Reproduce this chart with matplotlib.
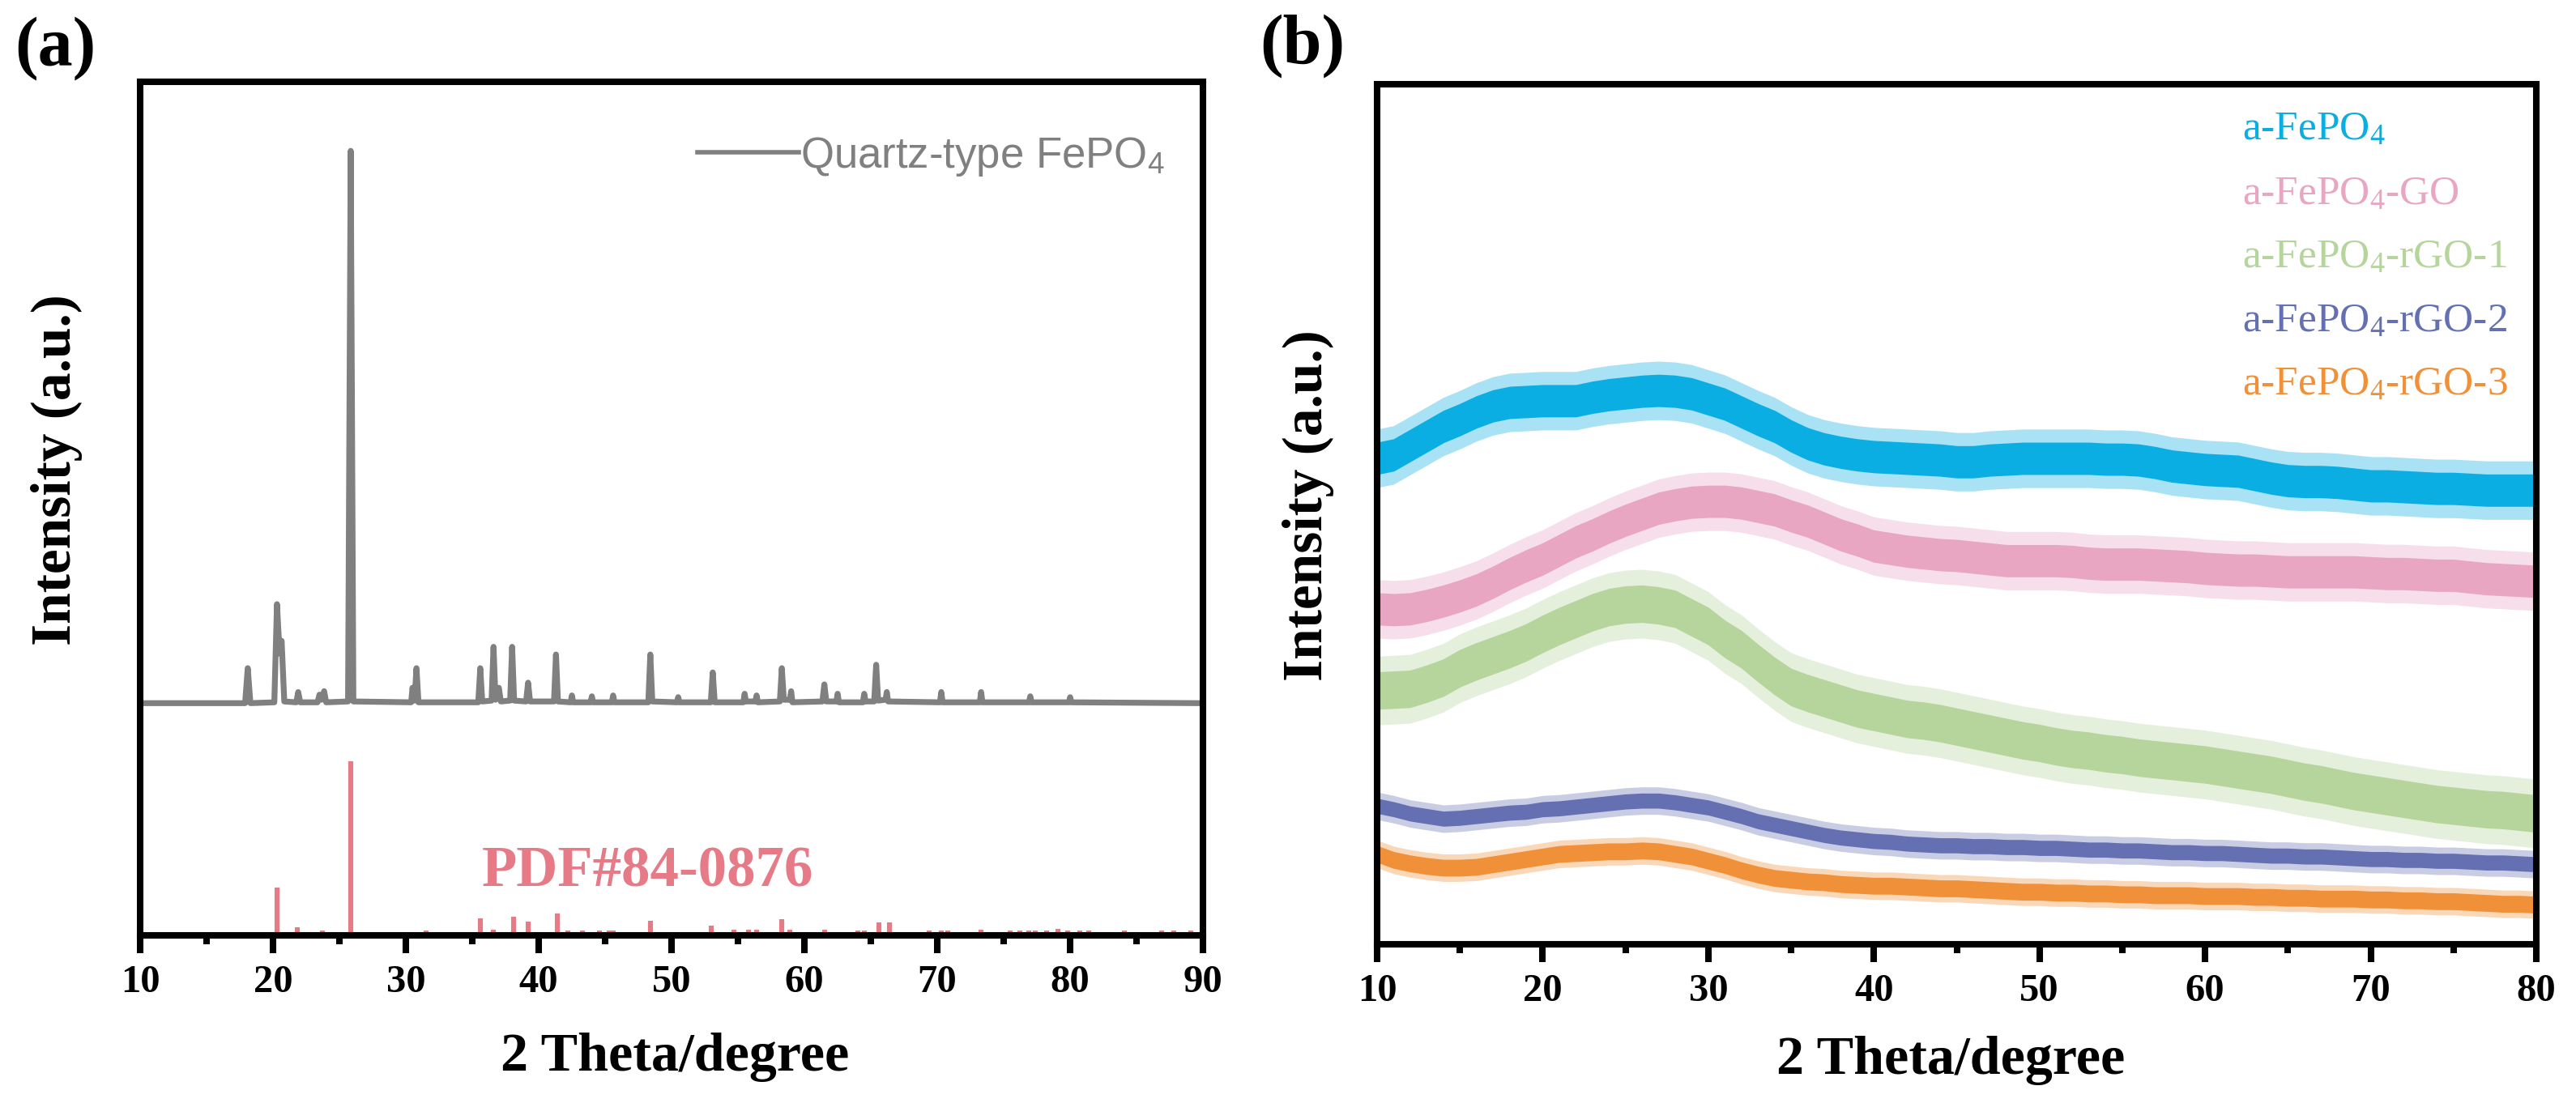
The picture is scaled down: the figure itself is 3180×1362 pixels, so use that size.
import numpy as np
import matplotlib
matplotlib.use("Agg")
import matplotlib.pyplot as plt
from matplotlib.ticker import MultipleLocator

plt.rcParams['font.family'] = ['Liberation Serif', 'DejaVu Serif']
plt.rcParams['mathtext.fontset'] = 'custom'
plt.rcParams['mathtext.rm'] = 'Liberation Serif'
plt.rcParams['mathtext.sf'] = 'Liberation Sans'
plt.rcParams['mathtext.default'] = 'rm'

# ---------------- Panel (a) data ----------------
two_theta_a = [10.0, 17.9, 18.1, 18.3, 20.1, 20.3,
               20.5, 20.65, 20.85, 21.75, 21.9, 22.05,
               23.35, 23.5, 23.65, 23.85, 24.0, 25.65,
               25.85, 26.05, 30.4, 30.5, 30.65, 30.8,
               30.95, 35.45, 35.6, 35.75, 36.45, 36.6,
               36.75, 37.0, 37.15, 37.85, 38.0, 38.15,
               39.05, 39.2, 39.35, 41.15, 41.3, 41.45,
               42.4, 42.5, 42.6, 43.9, 44.0, 44.1,
               45.5, 45.6, 45.7, 48.25, 48.4, 48.55,
               50.4, 50.5, 50.6, 52.95, 53.1, 53.25,
               55.4, 55.5, 55.6, 56.3, 56.4, 56.5,
               58.15, 58.3, 58.45, 58.9, 59.0, 59.1,
               61.35, 61.5, 61.65, 62.4, 62.5, 62.6,
               64.4, 64.5, 64.6, 65.25, 65.4, 65.55,
               66.1, 66.2, 66.3, 70.2, 70.3, 70.4,
               73.2, 73.3, 73.4, 76.9, 77.0, 77.1,
               79.9, 80.0, 80.1, 89.7]
intensity_a = [0.272, 0.272, 0.313, 0.272, 0.273, 0.388,
               0.330, 0.345, 0.274, 0.273, 0.285, 0.273,
               0.273, 0.282, 0.276, 0.286, 0.273, 0.274,
               0.919, 0.274, 0.273, 0.290, 0.275, 0.313,
               0.273, 0.273, 0.313, 0.274, 0.275, 0.338,
               0.276, 0.290, 0.274, 0.275, 0.338, 0.275,
               0.274, 0.296, 0.274, 0.274, 0.329, 0.274,
               0.273, 0.281, 0.273, 0.273, 0.280, 0.273,
               0.273, 0.281, 0.273, 0.273, 0.329, 0.274,
               0.273, 0.279, 0.273, 0.273, 0.308, 0.273,
               0.273, 0.283, 0.274, 0.274, 0.281, 0.273,
               0.274, 0.313, 0.276, 0.276, 0.286, 0.273,
               0.274, 0.294, 0.274, 0.274, 0.283, 0.273,
               0.273, 0.283, 0.274, 0.274, 0.317, 0.275,
               0.276, 0.285, 0.274, 0.273, 0.285, 0.273,
               0.273, 0.285, 0.273, 0.273, 0.280, 0.273,
               0.273, 0.279, 0.273, 0.272]

pdf_pos = [20.3, 21.8, 23.7, 25.85, 31.5, 35.6, 36.6, 38.1, 39.2, 41.4, 42.2, 43.3, 44.6,
           45.3, 45.6, 48.4, 53.0, 54.7, 55.8, 56.4, 58.3, 58.9, 61.5, 64.0, 64.5, 65.6,
           66.4, 69.4, 70.3, 70.8, 73.3, 75.5, 76.2, 76.9, 77.4, 78.2, 79.1, 79.8, 80.7,
           81.4, 84.1, 86.9, 87.8, 89.1]
pdf_int = [0.056, 0.009, 0.006, 0.204, 0.006, 0.020, 0.007, 0.022, 0.016, 0.026, 0.006, 0.006, 0.006,
           0.006, 0.006, 0.017, 0.011, 0.007, 0.007, 0.007, 0.019, 0.007, 0.007, 0.006, 0.006, 0.015,
           0.015, 0.006, 0.006, 0.006, 0.007, 0.006, 0.006, 0.006, 0.006, 0.006, 0.008, 0.006, 0.006,
           0.006, 0.006, 0.006, 0.006, 0.006]

# ---------------- Panel (b) data ----------------
two_theta_b = list(range(10, 81))
labels_b = ['a-FePO$_4$', 'a-FePO$_4$-GO', 'a-FePO$_4$-rGO-1', 'a-FePO$_4$-rGO-2', 'a-FePO$_4$-rGO-3']
colors_b = ['#0AAEE2', '#E8A6C3', '#B5D59D', '#6470B2', '#F0913A']

cyan_center = [0.565, 0.569, 0.580, 0.591, 0.602, 0.610, 0.619, 0.626, 0.630, 0.631,
               0.632, 0.632, 0.632, 0.636, 0.639, 0.641, 0.643, 0.644, 0.643, 0.640,
               0.634, 0.628, 0.619, 0.610, 0.602, 0.591, 0.582, 0.576, 0.572, 0.569,
               0.567, 0.566, 0.565, 0.564, 0.563, 0.561, 0.561, 0.563, 0.564, 0.565,
               0.565, 0.565, 0.565, 0.565, 0.564, 0.564, 0.563, 0.560, 0.556, 0.554,
               0.552, 0.551, 0.550, 0.546, 0.542, 0.539, 0.538, 0.538, 0.537, 0.535,
               0.533, 0.533, 0.532, 0.531, 0.530, 0.530, 0.529, 0.528, 0.528, 0.528,
               0.528]
pink_center = [0.390, 0.389, 0.390, 0.394, 0.399, 0.405, 0.412, 0.421, 0.431, 0.440,
               0.448, 0.458, 0.468, 0.476, 0.485, 0.493, 0.500, 0.507, 0.511, 0.514,
               0.515, 0.515, 0.513, 0.509, 0.505, 0.498, 0.492, 0.484, 0.476, 0.470,
               0.463, 0.460, 0.457, 0.455, 0.453, 0.452, 0.450, 0.448, 0.446, 0.446,
               0.446, 0.446, 0.445, 0.443, 0.442, 0.442, 0.442, 0.441, 0.440, 0.439,
               0.437, 0.436, 0.435, 0.435, 0.434, 0.433, 0.433, 0.433, 0.433, 0.433,
               0.432, 0.431, 0.431, 0.430, 0.429, 0.429, 0.427, 0.425, 0.424, 0.423,
               0.422]
green_center = [0.295, 0.296, 0.297, 0.303, 0.310, 0.321, 0.329, 0.336, 0.343, 0.351,
                0.361, 0.370, 0.378, 0.386, 0.392, 0.395, 0.396, 0.394, 0.390, 0.380,
                0.370, 0.355, 0.343, 0.327, 0.312, 0.299, 0.292, 0.286, 0.280, 0.274,
                0.270, 0.266, 0.262, 0.260, 0.257, 0.253, 0.249, 0.245, 0.241, 0.237,
                0.234, 0.230, 0.227, 0.225, 0.222, 0.220, 0.217, 0.215, 0.213, 0.211,
                0.209, 0.206, 0.203, 0.200, 0.197, 0.193, 0.189, 0.186, 0.182, 0.178,
                0.175, 0.172, 0.169, 0.166, 0.163, 0.161, 0.159, 0.157, 0.156, 0.154,
                0.152]
blue_center = [0.161, 0.157, 0.152, 0.149, 0.146, 0.147, 0.149, 0.151, 0.153, 0.154,
               0.157, 0.158, 0.160, 0.162, 0.164, 0.166, 0.167, 0.167, 0.165, 0.162,
               0.159, 0.154, 0.149, 0.143, 0.139, 0.135, 0.131, 0.127, 0.124, 0.122,
               0.120, 0.119, 0.117, 0.116, 0.115, 0.115, 0.114, 0.114, 0.113, 0.113,
               0.112, 0.112, 0.111, 0.110, 0.110, 0.109, 0.109, 0.108, 0.107, 0.107,
               0.106, 0.106, 0.105, 0.104, 0.103, 0.103, 0.102, 0.102, 0.101, 0.100,
               0.099, 0.099, 0.098, 0.098, 0.097, 0.097, 0.096, 0.095, 0.095, 0.094,
               0.093]
orange_center = [0.105, 0.098, 0.094, 0.091, 0.089, 0.089, 0.090, 0.093, 0.096, 0.099,
                 0.102, 0.105, 0.106, 0.107, 0.108, 0.108, 0.109, 0.108, 0.105, 0.102,
                 0.097, 0.092, 0.086, 0.081, 0.077, 0.075, 0.073, 0.072, 0.070, 0.069,
                 0.068, 0.068, 0.067, 0.066, 0.065, 0.065, 0.064, 0.063, 0.062, 0.061,
                 0.061, 0.060, 0.060, 0.059, 0.059, 0.058, 0.058, 0.057, 0.057, 0.057,
                 0.056, 0.056, 0.056, 0.055, 0.055, 0.054, 0.054, 0.053, 0.053, 0.053,
                 0.052, 0.052, 0.051, 0.051, 0.050, 0.050, 0.049, 0.048, 0.047, 0.047,
                 0.046]
# band half-widths: dense noise core, and the spike envelope
core_hw = [0.018, 0.018, 0.021, 0.008, 0.009]
spike_hw = [0.034, 0.034, 0.040, 0.016, 0.016]
series_b = [cyan_center, pink_center, green_center, blue_center, orange_center]

xticks_a = [10, 20, 30, 40, 50, 60, 70, 80, 90]
xticks_b = [10, 20, 30, 40, 50, 60, 70, 80]

# ---------------- Figure ----------------
fig = plt.figure(figsize=(15.9, 6.81), dpi=200)
ax1 = fig.add_axes([0.0544, 0.152, 0.4126, 0.7739])
ax2 = fig.add_axes([0.5346, 0.1439, 0.4500, 0.7797])

SPINE_LW = 2.9
for ax in (ax1, ax2):
    for sp in ax.spines.values():
        sp.set_linewidth(SPINE_LW)
    ax.set_ylim(0, 1)
    ax.set_yticks([])
    ax.tick_params(axis='x', which='major', direction='out', length=7.9, width=SPINE_LW,
                   pad=5, labelsize=17.5)
    ax.tick_params(axis='x', which='minor', direction='out', length=4.0, width=SPINE_LW)
    ax.xaxis.set_minor_locator(MultipleLocator(5))

# Panel (a)
ax1.plot(two_theta_a, intensity_a, color='#808080', lw=2.6, solid_joinstyle='round')
ax1.vlines(pdf_pos, 0, pdf_int, color='#E67A87', lw=2.2)
ax1.set_xlim(10, 90)
ax1.set_xticks(xticks_a)
ax1.plot([0.524, 0.620], [0.917, 0.917], transform=ax1.transAxes, color='#808080', lw=2.0)
ax1.text(0.621, 0.899, 'Quartz-type FePO$_\\mathsf{4}$', transform=ax1.transAxes,
         color='#808080', fontsize=19, family='Liberation Sans', va='baseline', ha='left')
ax1.text(35.7, 0.057, 'PDF#84-0876', color='#E67A87', fontsize=25.5, fontweight='bold',
         va='baseline', ha='left')

# Panel (b)
for c, center, chw, shw in zip(colors_b, series_b, core_hw, spike_hw):
    center = np.asarray(center)
    ax2.fill_between(two_theta_b, center - shw, center + shw, color=c, lw=0, alpha=0.35)
    ax2.fill_between(two_theta_b, center - chw, center + chw, color=c, lw=0.6, edgecolor=c)
ax2.set_xlim(10, 80)
ax2.set_xticks(xticks_b)
legend_y = [0.936, 0.861, 0.787, 0.713, 0.639]
for lab, c, yy in zip(labels_b, colors_b, legend_y):
    ax2.text(0.746, yy, lab, transform=ax2.transAxes, color=c, fontsize=18.5,
             va='baseline', ha='left')

for ax in (ax1, ax2):
    for t in ax.get_xticklabels():
        t.set_fontweight('bold')

ax1.set_xlabel('2 Theta/degree', fontsize=24.5, fontweight='bold')
ax2.set_xlabel('2 Theta/degree', fontsize=24.5, fontweight='bold')
ax1.xaxis.set_label_coords(0.503, -0.158)
ax2.xaxis.set_label_coords(0.495, -0.151)
for lab in (ax1.xaxis.label, ax2.xaxis.label):
    lab.set_va('baseline')

ax1.set_ylabel('Intensity (a.u.)', fontsize=25, fontweight='bold')
ax2.set_ylabel('Intensity (a.u.)', fontsize=25, fontweight='bold')
ax1.yaxis.set_label_coords(-0.054, 0.545)
ax2.yaxis.set_label_coords(-0.037, 0.51)

fig.text(0.0057, 0.985, '(a)', fontsize=31, fontweight='bold', va='top', ha='left')
fig.text(0.489, 0.987, '(b)', fontsize=31, fontweight='bold', va='top', ha='left')

fig.savefig('out.png', dpi=200)
